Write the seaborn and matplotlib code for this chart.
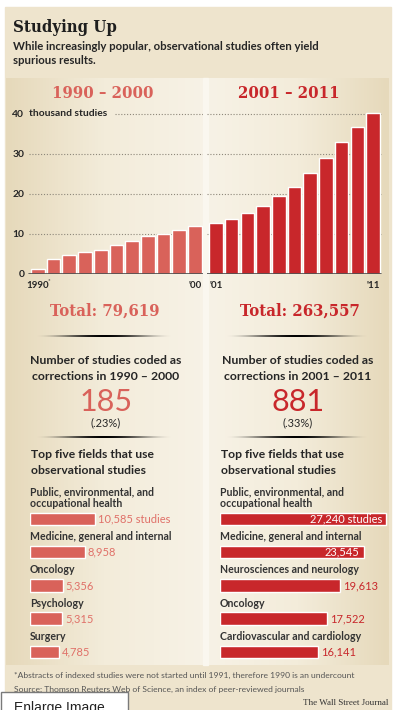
import matplotlib
matplotlib.use('Agg')
import matplotlib.pyplot as plt
from matplotlib import font_manager
from matplotlib.colors import LinearSegmentedColormap
from matplotlib.patches import Rectangle
import numpy as np
import seaborn as sns

# studies per year, in thousands
years_early = ['1990', '1991', '1992', '1993', '1994', '1995', '1996', '1997', '1998', '1999', '2000']
studies_early = [1.25, 3.8, 4.8, 5.6, 6.1, 7.25, 8.2, 9.4, 10.1, 11.0, 11.9]
years_late = ['2001', '2002', '2003', '2004', '2005', '2006', '2007', '2008', '2009', '2010', '2011']
studies_late = [12.75, 13.8, 15.25, 17.1, 19.6, 21.75, 25.3, 29.0, 33.0, 36.7, 40.25]
y_ticks = [0, 10, 20, 30, 40]
y_tick_labels = ['0', '10', '20', '30', '40']
x_ticks_early = ['1990', "'00"]
x_ticks_late = ["'01", "'11"]

periods = ['1990 – 2000', '2001 – 2011']
totals = ['Total: 79,619', 'Total: 263,557']
corrections = ['185', '881']
correction_shares = ['(.23%)', '(.33%)']

fields_early = ['Public, environmental, and\noccupational health', 'Medicine, general and internal',
                'Oncology', 'Psychology', 'Surgery']
counts_early = [10585, 8958, 5356, 5315, 4785]
fields_late = ['Public, environmental, and\noccupational health', 'Medicine, general and internal',
               'Neurosciences and neurology', 'Oncology', 'Cardiovascular and cardiology']
counts_late = [27240, 23545, 19613, 17522, 16141]

LIGHT = '#d9625a'
DARK = '#c8272b'
INK = '#262626'
PX_PER_STUDY = 6.1 / 1000

sns.set_style('white')
plt.rcParams['font.family'] = ['Lato', 'DejaVu Sans']

# slab serif headings, condensed DejaVu if the system has it
slab = {'family': 'DejaVu Serif', 'weight': 'bold'}
cond = [f.name for f in font_manager.fontManager.ttflist
        if f.name.startswith('DejaVu Serif') and f.stretch == 'condensed']
if cond:
    slab = {'family': cond[0], 'weight': 'bold', 'stretch': 'condensed'}

W, H = 394, 710
fig = plt.figure(figsize=(W / 100, H / 100), dpi=100)


def box(x0, y0, x1, y1):
    return fig.add_axes([x0 / W, 1 - y1 / H, (x1 - x0) / W, (y1 - y0) / H])


def put(x, y, s, **kw):
    fig.text(x / W, 1 - y / H, s, **kw)


# paper background
bg = box(0, 0, W, H)
bg.axis('off')
bg.add_patch(Rectangle((5, 7), 386, 703, color='#eee4cd', zorder=0))
paper = LinearSegmentedColormap.from_list('paper', ['#e6d9bb', '#f3ecda', '#f7f2e6'])
bg.imshow(np.linspace(0, 1, 64)[None, :], cmap=paper, extent=[6, 203, 665, 78], aspect='auto', zorder=1)
bg.imshow(np.linspace(1, 0.3, 64)[None, :], cmap=paper, extent=[208, 389, 665, 78], aspect='auto', zorder=1)
bg.add_patch(Rectangle((203, 78), 5, 587, color='#faf7ef', zorder=2))


def divider(x0, x1, y):
    t = np.linspace(0, 1, 200)
    rgba = np.zeros((1, 200, 4))
    rgba[..., 3] = np.sin(np.pi * t) ** 2
    bg.imshow(rgba, extent=[x0, x1, y + 1, y - 1], aspect='auto', zorder=3)


for x0, x1 in [(34, 174), (224, 370)]:
    divider(x0, x1, 336)
    divider(x0, x1, 437)
bg.set_xlim(0, W)
bg.set_ylim(H, 0)

# yearly bars
ax1 = box(27, 106, 203, 274)
ax2 = box(207, 106, 385, 274)
sns.barplot(x=years_early, y=studies_early, color=LIGHT, saturation=1, width=0.87, ax=ax1, zorder=3)
sns.barplot(x=years_late, y=studies_late, color=DARK, saturation=1, width=0.87, ax=ax2, zorder=3)
ax1.set_xlim(-0.69, 10.51)
ax2.set_xlim(-0.57, 10.76)
for ax, grid_start, grid_end, ticks in [(ax1, 0.01, 1, x_ticks_early), (ax2, 0, 0.98, x_ticks_late)]:
    ax.set_ylim(0, 42)
    ax.patch.set_visible(False)
    sns.despine(ax=ax, left=True, bottom=True)
    for v in y_ticks[1:]:
        lo = 0.5 if (ax is ax1 and v == 40) else grid_start
        ax.axhline(v, lo, grid_end, color='#8d877a', lw=0.8, ls=(0, (1, 1.6)), zorder=1)
    ax.axhline(0, grid_start, grid_end, color='#4a4a4a', lw=1.2, zorder=4)
    ax.set_xticks([0, 10], ticks)
    ax.tick_params(axis='x', length=0, pad=5, labelsize=7, labelcolor=INK)
    ax.set_xlabel('')
    for lab in ax.get_xticklabels():
        lab.set_fontweight('bold')
ax1.set_yticks(y_ticks, y_tick_labels)
ax1.tick_params(axis='y', length=0, pad=2, labelsize=7.4, labelcolor=INK)
for lab in ax1.get_yticklabels():
    lab.set_fontweight('bold')
ax2.set_yticks([])
put(29, 114, 'thousand studies', va='center', fontsize=7.4, fontweight='bold', color=INK)
put(48, 282, '*', fontsize=4.5, color=INK)

# titles
put(13, 28, 'Studying Up', va='center', fontsize=12, color='#1e1e1e', **slab)
put(13, 47, 'While increasingly popular, observational studies often yield', va='center',
    fontsize=8.2, fontweight='bold', color=INK)
put(13, 61, 'spurious results.', va='center', fontsize=8.2, fontweight='bold', color=INK)

# period summaries
for cx, hx, tx, color, period, total, n, share, years in [
        (106, 102.5, 104.5, LIGHT, periods[0], totals[0], corrections[0], correction_shares[0], '1990 – 2000'),
        (298, 288.5, 300, DARK, periods[1], totals[1], corrections[1], correction_shares[1], '2001 – 2011')]:
    put(hx, 93, period, ha='center', va='center', fontsize=12, color=color, **slab)
    put(tx, 311, total, ha='center', va='center', fontsize=12, color=color, **slab)
    put(cx, 361, 'Number of studies coded as', ha='center', va='center', fontsize=8.8,
        fontweight='bold', color=INK)
    put(cx, 376, 'corrections in ' + years, ha='center', va='center', fontsize=8.8,
        fontweight='bold', color=INK)
    put(cx, 402, n, ha='center', va='center', fontsize=22, color=color)
    put(cx, 423, share, ha='center', va='center', fontsize=8, color=INK)

# top five fields
for x0, fields, counts, color, label_color in [(30, fields_early, counts_early, LIGHT, '#e07068'),
                                               (220, fields_late, counts_late, DARK, DARK)]:
    put(x0 + 1, 455, 'Top five fields that use', va='center', fontsize=8.7, fontweight='bold', color=INK)
    put(x0 + 1, 470, 'observational studies', va='center', fontsize=8.7, fontweight='bold', color=INK)
    ax = box(x0, 469, x0 + 170, 669)
    sns.barplot(x=counts, y=fields, orient='h', color=color, saturation=1, width=0.376, ax=ax)
    ax.set_xlim(0, 170 / PX_PER_STUDY)
    ax.set_ylim(4.51, -1.5)
    ax.axis('off')
    for i, (f, c) in enumerate(zip(fields, counts)):
        ax.text(0, i - 0.36, f, va='baseline', fontsize=7.6, fontweight='bold', color='#333333',
                linespacing=1.1)
        s = f'{c:,}' + (' studies' if i == 0 else '')
        if x0 + c * PX_PER_STUDY > 350:
            ax.text(c - 4 / PX_PER_STUDY, i, s, ha='right', va='center', fontsize=8, color='white')
        else:
            ax.text(c + 3 / PX_PER_STUDY, i, s, ha='left', va='center', fontsize=8, color=label_color)

# footer
put(14, 675, '*Abstracts of indexed studies were not started until 1991, therefore 1990 is an undercount',
    va='center', fontsize=6.1, color='#555555')
put(14, 689, 'Source: Thomson Reuters Web of Science, an index of peer-reviewed journals',
    va='center', fontsize=6.1, color='#555555')
put(388, 703, 'The Wall Street Journal', ha='right', va='center', fontsize=6.5,
    family='Liberation Serif', color='#333333')
bg.add_patch(Rectangle((0.5, 692), 128, 30, facecolor='white', edgecolor='#7a7a7a', lw=1, zorder=5))
put(14, 712, 'Enlarge Image', va='baseline', fontsize=10, family='Liberation Sans', color='#222222')

fig.savefig('out.png', dpi=100)
